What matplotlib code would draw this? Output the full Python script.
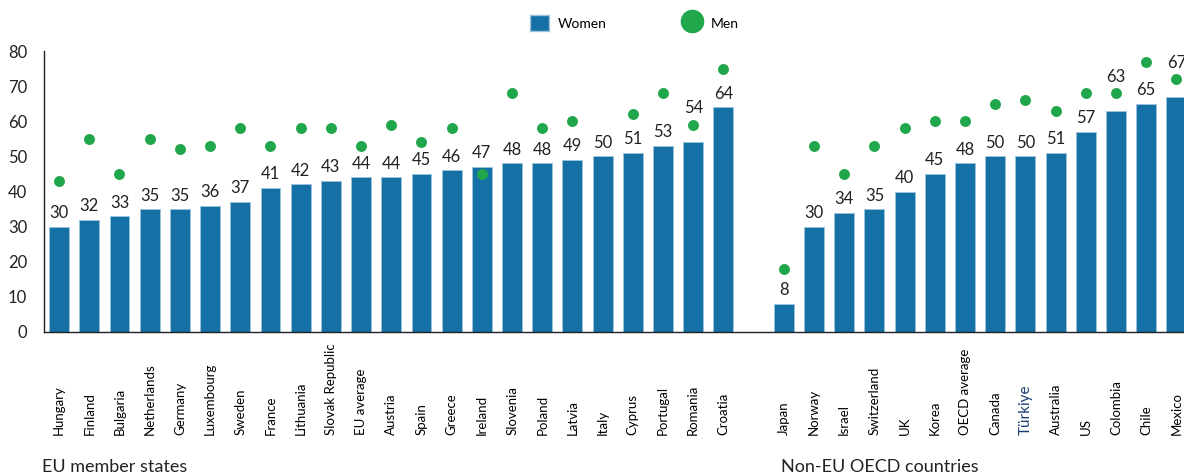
import numpy as np
import matplotlib
matplotlib.use("Agg")
import matplotlib.pyplot as plt
from matplotlib.patches import Patch
from matplotlib.lines import Line2D

plt.rcParams['font.family'] = ['Lato', 'DejaVu Sans']

eu_countries = ["Hungary", "Finland", "Bulgaria", "Netherlands", "Germany", "Luxembourg",
                "Sweden", "France", "Lithuania", "Slovak Republic", "EU average", "Austria",
                "Spain", "Greece", "Ireland", "Slovenia", "Poland", "Latvia", "Italy",
                "Cyprus", "Portugal", "Romania", "Croatia"]
eu_women = [30, 32, 33, 35, 35, 36, 37, 41, 42, 43, 44, 44, 45, 46, 47, 48, 48, 49, 50,
            51, 53, 54, 64]
eu_men = [43, 55, 45, 55, 52, 53, 58, 53, 58, 58, 53, 59, 54, 58, 45, 68, 58, 60, np.nan,
          62, 68, 59, 75]

oecd_countries = ["Japan", "Norway", "Israel", "Switzerland", "UK", "Korea", "OECD average",
                  "Canada", "Türkiye", "Australia", "US", "Colombia", "Chile", "Mexico"]
oecd_women = [8, 30, 34, 35, 40, 45, 48, 50, 50, 51, 57, 63, 65, 67]
oecd_men = [18, 53, 45, 53, 58, 60, 60, 65, 66, 63, 68, 68, 77, 72]

y_ticks = [0, 10, 20, 30, 40, 50, 60, 70, 80]
group_labels = ["EU member states", "Non-EU OECD countries"]

BLUE = "#1570a6"
GREEN = "#21a74b"

fig = plt.figure(figsize=(11.84, 4.75), dpi=100)
ax = fig.add_axes([44/1184, 1 - 332/475, (1191.5 - 44)/1184, (332 - 51)/475])

countries = eu_countries + oecd_countries
women = eu_women + oecd_women
men = eu_men + oecd_men
pos = list(range(len(eu_countries))) + [len(eu_countries) + 1 + i for i in range(len(oecd_countries))]
pos = np.array(pos, dtype=float)

ax.bar(pos, women, width=0.66, color=BLUE, edgecolor="#9cc3de", linewidth=0.6, zorder=2)
ax.scatter(pos, men, s=62, color=GREEN, zorder=3, linewidths=0)

for x, w, m in zip(pos, women, men):
    if not np.isnan(m) and 0 < m - w < 7:
        ax.annotate(str(w), (x, m), xytext=(0, 6), textcoords="offset points",
                    ha="center", va="bottom", fontsize=12, color="#222222", zorder=4)
    else:
        ax.annotate(str(w), (x, w), xytext=(0, 4), textcoords="offset points",
                    ha="center", va="bottom", fontsize=12, color="#222222", zorder=4)

ax.set_xlim(-0.5, pos[-1] + 0.5)
ax.set_ylim(0, 80)
ax.set_yticks(y_ticks)
ax.tick_params(axis="y", length=0, pad=12, labelsize=12, labelcolor="#222222")
ax.set_xticks(pos)
ax.set_xticklabels(countries)
ax.tick_params(axis="x", length=0, pad=74, labelsize=9.5)
for lab in ax.get_xticklabels():
    lab.set_rotation(90)
    lab.set_va("bottom")
    lab.set_ha("center")
    if lab.get_text() == "Türkiye":
        lab.set_color("#1b3f73")
        lab.set_fontsize(11)

for s in ["top", "right"]:
    ax.spines[s].set_visible(False)
for s in ["left", "bottom"]:
    ax.spines[s].set_color("#222222")
    ax.spines[s].set_linewidth(1.0)

fig.text(42/1184, 1 - 467/475, group_labels[0], fontsize=13, va="center", ha="left", color="#222222")
fig.text(781/1184, 1 - 467/475, group_labels[1], fontsize=13, va="center", ha="left", color="#222222")

handles = [Patch(facecolor=BLUE, edgecolor="#9cc3de", label="Women"),
           Line2D([0], [0], marker="o", linestyle="none", markersize=16,
                  markerfacecolor=GREEN, markeredgecolor=GREEN, label="Men")]
fig.legend(handles=handles, loc="center", bbox_to_anchor=(634/1184, 1 - 23/475), ncol=2,
           frameon=False, fontsize=10, handlelength=1.4, handleheight=1.4,
           handletextpad=0.6, columnspacing=5.5)

fig.savefig("out.png", dpi=100)
